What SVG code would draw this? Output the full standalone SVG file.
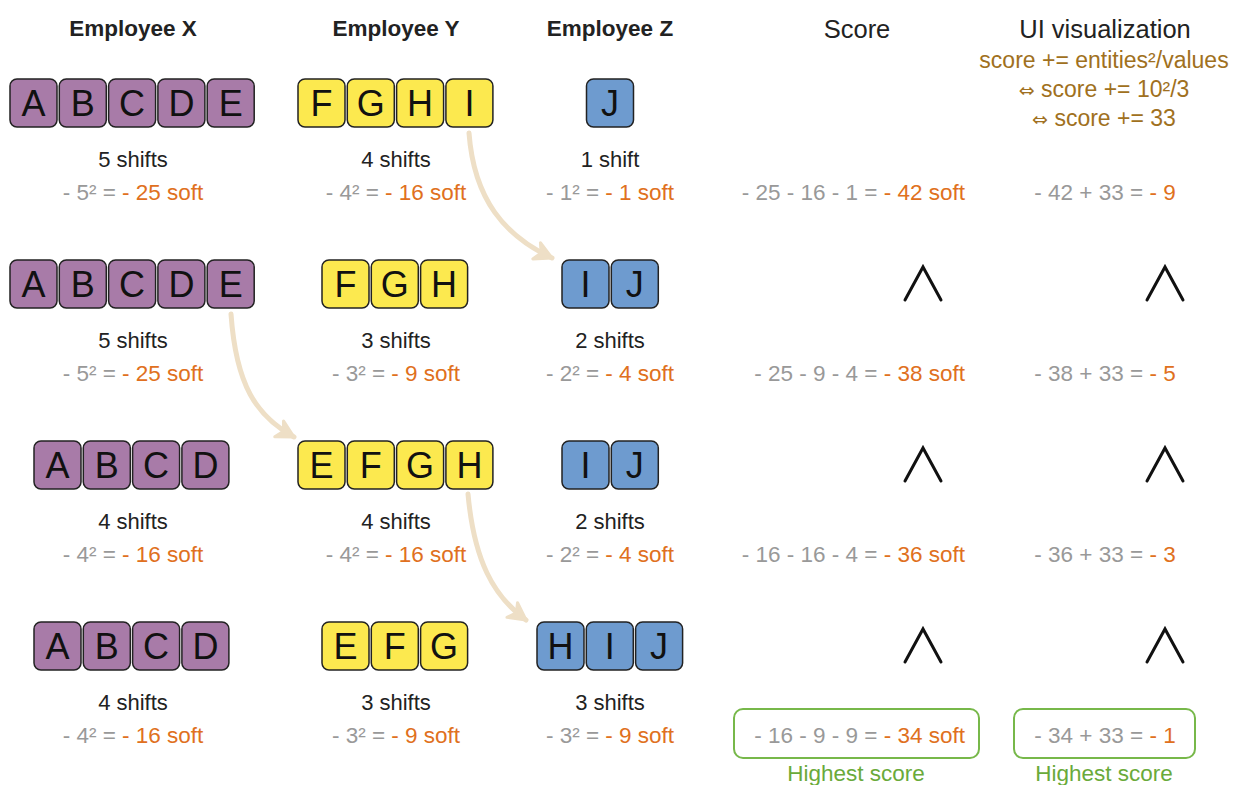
<svg xmlns="http://www.w3.org/2000/svg" width="1246" height="785" viewBox="0 0 1246 785">
<defs>
<style>
text{font-family:"Liberation Sans",Arial,sans-serif}
.hb{font-size:22.5px;font-weight:bold;fill:#222;text-anchor:middle}
.hr{font-size:25.5px;fill:#222;text-anchor:middle}
.f{font-size:23px;fill:#a07020;text-anchor:middle}
.ar{font-family:"DejaVu Sans",sans-serif;font-size:19px}
.t{font-size:22px;fill:#222;text-anchor:middle}
.s{font-size:22.5px;fill:#999;text-anchor:middle}
.se{font-size:22.5px;fill:#999;text-anchor:end}
.o{fill:#e07020}
.L{font-size:36px;fill:#111;text-anchor:middle}
.p{fill:#a87ba8;stroke:#222;stroke-width:1.5}
.y{fill:#fce94f;stroke:#222;stroke-width:1.5}
.b{fill:#6e9bcf;stroke:#222;stroke-width:1.5}
.g{fill:none;stroke:#77b84a;stroke-width:2}
.gt{font-size:22.5px;fill:#6aaa3a;text-anchor:middle}
.ge{fill:none;stroke:#111;stroke-width:3;stroke-linecap:round;stroke-linejoin:miter}
.arr{fill:none;stroke:#eedfc6;stroke-width:5;stroke-linecap:round}
</style>
<marker id="ah" viewBox="0 0 24 24" refX="20" refY="12" markerWidth="24" markerHeight="24" markerUnits="userSpaceOnUse" orient="auto">
<path d="M3,3 L20,12 L3,21 L8,12 Z" fill="#eedfc6" stroke="#eedfc6" stroke-width="3" stroke-linejoin="round"/>
</marker>
</defs>
<rect width="1246" height="785" fill="#fff"/>

<g id="headers">
<text class="hb" x="133" y="36">Employee X</text>
<text class="hb" x="396" y="36">Employee Y</text>
<text class="hb" x="610" y="36">Employee Z</text>
<text class="hr" x="857" y="38">Score</text>
<text class="hr" x="1105" y="38">UI visualization</text>
<text class="f" x="1104" y="68">score += entities²/values</text>
<text class="f" x="1104" y="97"><tspan class="ar">⇔</tspan> score += 10²/3</text>
<text class="f" x="1104" y="126"><tspan class="ar">⇔</tspan> score += 33</text>
</g>

<g id="connectors">
<path class="arr" d="M469 133 C474 200 505 236 552 258" marker-end="url(#ah)"/>
<path class="arr" d="M231 314 C236 385 256 416 294 437" marker-end="url(#ah)"/>
<path class="arr" d="M468 494 C474 560 493 596 526 620" marker-end="url(#ah)"/>
</g>

<!-- Row 1 -->
<g id="r1x">
<rect class="p" x="10" y="79" width="47" height="48" rx="7"/><text class="L" x="33.5" y="116">A</text>
<rect class="p" x="59.3" y="79" width="47" height="48" rx="7"/><text class="L" x="82.8" y="116">B</text>
<rect class="p" x="108.6" y="79" width="47" height="48" rx="7"/><text class="L" x="132.1" y="116">C</text>
<rect class="p" x="157.9" y="79" width="47" height="48" rx="7"/><text class="L" x="181.4" y="116">D</text>
<rect class="p" x="207.2" y="79" width="47" height="48" rx="7"/><text class="L" x="230.7" y="116">E</text>
<text class="t" x="133" y="167">5 shifts</text>
<text class="s" x="133" y="200">- 5² = <tspan class="o">- 25 soft</tspan></text>
</g>
<g id="r1y">
<rect class="y" x="298" y="79" width="47" height="48" rx="7"/><text class="L" x="321.5" y="116">F</text>
<rect class="y" x="347.3" y="79" width="47" height="48" rx="7"/><text class="L" x="370.8" y="116">G</text>
<rect class="y" x="396.6" y="79" width="47" height="48" rx="7"/><text class="L" x="420.1" y="116">H</text>
<rect class="y" x="445.9" y="79" width="47" height="48" rx="7"/><text class="L" x="469.4" y="116">I</text>
<text class="t" x="396" y="167">4 shifts</text>
<text class="s" x="396" y="200">- 4² = <tspan class="o">- 16 soft</tspan></text>
</g>
<g id="r1z">
<rect class="b" x="586.5" y="79" width="47" height="48" rx="7"/><text class="L" x="610" y="116">J</text>
<text class="t" x="610" y="167">1 shift</text>
<text class="s" x="610" y="200">- 1² = <tspan class="o">- 1 soft</tspan></text>
</g>
<g id="r1s">
<text class="se" x="965" y="200">- 25 - 16 - 1 = <tspan class="o">- 42 soft</tspan></text>
<text class="s" x="1105" y="200">- 42 + 33 = <tspan class="o">- 9</tspan></text>
</g>

<!-- Row 2 -->
<g id="r2x">
<rect class="p" x="10" y="260" width="47" height="48" rx="7"/><text class="L" x="33.5" y="297">A</text>
<rect class="p" x="59.3" y="260" width="47" height="48" rx="7"/><text class="L" x="82.8" y="297">B</text>
<rect class="p" x="108.6" y="260" width="47" height="48" rx="7"/><text class="L" x="132.1" y="297">C</text>
<rect class="p" x="157.9" y="260" width="47" height="48" rx="7"/><text class="L" x="181.4" y="297">D</text>
<rect class="p" x="207.2" y="260" width="47" height="48" rx="7"/><text class="L" x="230.7" y="297">E</text>
<text class="t" x="133" y="348">5 shifts</text>
<text class="s" x="133" y="381">- 5² = <tspan class="o">- 25 soft</tspan></text>
</g>
<g id="r2y">
<rect class="y" x="322" y="260" width="47" height="48" rx="7"/><text class="L" x="345.5" y="297">F</text>
<rect class="y" x="371.3" y="260" width="47" height="48" rx="7"/><text class="L" x="394.8" y="297">G</text>
<rect class="y" x="420.6" y="260" width="47" height="48" rx="7"/><text class="L" x="444.1" y="297">H</text>
<text class="t" x="396" y="348">3 shifts</text>
<text class="s" x="396" y="381">- 3² = <tspan class="o">- 9 soft</tspan></text>
</g>
<g id="r2z">
<rect class="b" x="562" y="260" width="47" height="48" rx="7"/><text class="L" x="585.5" y="297">I</text>
<rect class="b" x="611.3" y="260" width="47" height="48" rx="7"/><text class="L" x="634.8" y="297">J</text>
<text class="t" x="610" y="348">2 shifts</text>
<text class="s" x="610" y="381">- 2² = <tspan class="o">- 4 soft</tspan></text>
</g>
<g id="r2s">
<polyline class="ge" points="905,300 923,267 941,300"/>
<polyline class="ge" points="1147,300 1165,267 1183,300"/>
<text class="se" x="965" y="381">- 25 - 9 - 4 = <tspan class="o">- 38 soft</tspan></text>
<text class="s" x="1105" y="381">- 38 + 33 = <tspan class="o">- 5</tspan></text>
</g>

<!-- Row 3 -->
<g id="r3x">
<rect class="p" x="34" y="441" width="47" height="48" rx="7"/><text class="L" x="57.5" y="478">A</text>
<rect class="p" x="83.3" y="441" width="47" height="48" rx="7"/><text class="L" x="106.8" y="478">B</text>
<rect class="p" x="132.6" y="441" width="47" height="48" rx="7"/><text class="L" x="156.1" y="478">C</text>
<rect class="p" x="181.9" y="441" width="47" height="48" rx="7"/><text class="L" x="205.4" y="478">D</text>
<text class="t" x="133" y="529">4 shifts</text>
<text class="s" x="133" y="562">- 4² = <tspan class="o">- 16 soft</tspan></text>
</g>
<g id="r3y">
<rect class="y" x="298" y="441" width="47" height="48" rx="7"/><text class="L" x="321.5" y="478">E</text>
<rect class="y" x="347.3" y="441" width="47" height="48" rx="7"/><text class="L" x="370.8" y="478">F</text>
<rect class="y" x="396.6" y="441" width="47" height="48" rx="7"/><text class="L" x="420.1" y="478">G</text>
<rect class="y" x="445.9" y="441" width="47" height="48" rx="7"/><text class="L" x="469.4" y="478">H</text>
<text class="t" x="396" y="529">4 shifts</text>
<text class="s" x="396" y="562">- 4² = <tspan class="o">- 16 soft</tspan></text>
</g>
<g id="r3z">
<rect class="b" x="562" y="441" width="47" height="48" rx="7"/><text class="L" x="585.5" y="478">I</text>
<rect class="b" x="611.3" y="441" width="47" height="48" rx="7"/><text class="L" x="634.8" y="478">J</text>
<text class="t" x="610" y="529">2 shifts</text>
<text class="s" x="610" y="562">- 2² = <tspan class="o">- 4 soft</tspan></text>
</g>
<g id="r3s">
<polyline class="ge" points="905,481 923,448 941,481"/>
<polyline class="ge" points="1147,481 1165,448 1183,481"/>
<text class="se" x="965" y="562">- 16 - 16 - 4 = <tspan class="o">- 36 soft</tspan></text>
<text class="s" x="1105" y="562">- 36 + 33 = <tspan class="o">- 3</tspan></text>
</g>

<!-- Row 4 -->
<g id="r4x">
<rect class="p" x="34" y="622" width="47" height="48" rx="7"/><text class="L" x="57.5" y="659">A</text>
<rect class="p" x="83.3" y="622" width="47" height="48" rx="7"/><text class="L" x="106.8" y="659">B</text>
<rect class="p" x="132.6" y="622" width="47" height="48" rx="7"/><text class="L" x="156.1" y="659">C</text>
<rect class="p" x="181.9" y="622" width="47" height="48" rx="7"/><text class="L" x="205.4" y="659">D</text>
<text class="t" x="133" y="710">4 shifts</text>
<text class="s" x="133" y="743">- 4² = <tspan class="o">- 16 soft</tspan></text>
</g>
<g id="r4y">
<rect class="y" x="322" y="622" width="47" height="48" rx="7"/><text class="L" x="345.5" y="659">E</text>
<rect class="y" x="371.3" y="622" width="47" height="48" rx="7"/><text class="L" x="394.8" y="659">F</text>
<rect class="y" x="420.6" y="622" width="47" height="48" rx="7"/><text class="L" x="444.1" y="659">G</text>
<text class="t" x="396" y="710">3 shifts</text>
<text class="s" x="396" y="743">- 3² = <tspan class="o">- 9 soft</tspan></text>
</g>
<g id="r4z">
<rect class="b" x="537" y="622" width="47" height="48" rx="7"/><text class="L" x="560.5" y="659">H</text>
<rect class="b" x="586.3" y="622" width="47" height="48" rx="7"/><text class="L" x="609.8" y="659">I</text>
<rect class="b" x="635.6" y="622" width="47" height="48" rx="7"/><text class="L" x="659.1" y="659">J</text>
<text class="t" x="610" y="710">3 shifts</text>
<text class="s" x="610" y="743">- 3² = <tspan class="o">- 9 soft</tspan></text>
</g>
<g id="r4s">
<polyline class="ge" points="905,662 923,629 941,662"/>
<polyline class="ge" points="1147,662 1165,629 1183,662"/>
<rect class="g" x="734" y="709" width="245" height="49" rx="9"/>
<text class="se" x="965" y="743">- 16 - 9 - 9 = <tspan class="o">- 34 soft</tspan></text>
<text class="gt" x="856" y="781">Highest score</text>
<rect class="g" x="1014" y="709" width="181" height="49" rx="9"/>
<text class="s" x="1105" y="743">- 34 + 33 = <tspan class="o">- 1</tspan></text>
<text class="gt" x="1104" y="781">Highest score</text>
</g>
</svg>
